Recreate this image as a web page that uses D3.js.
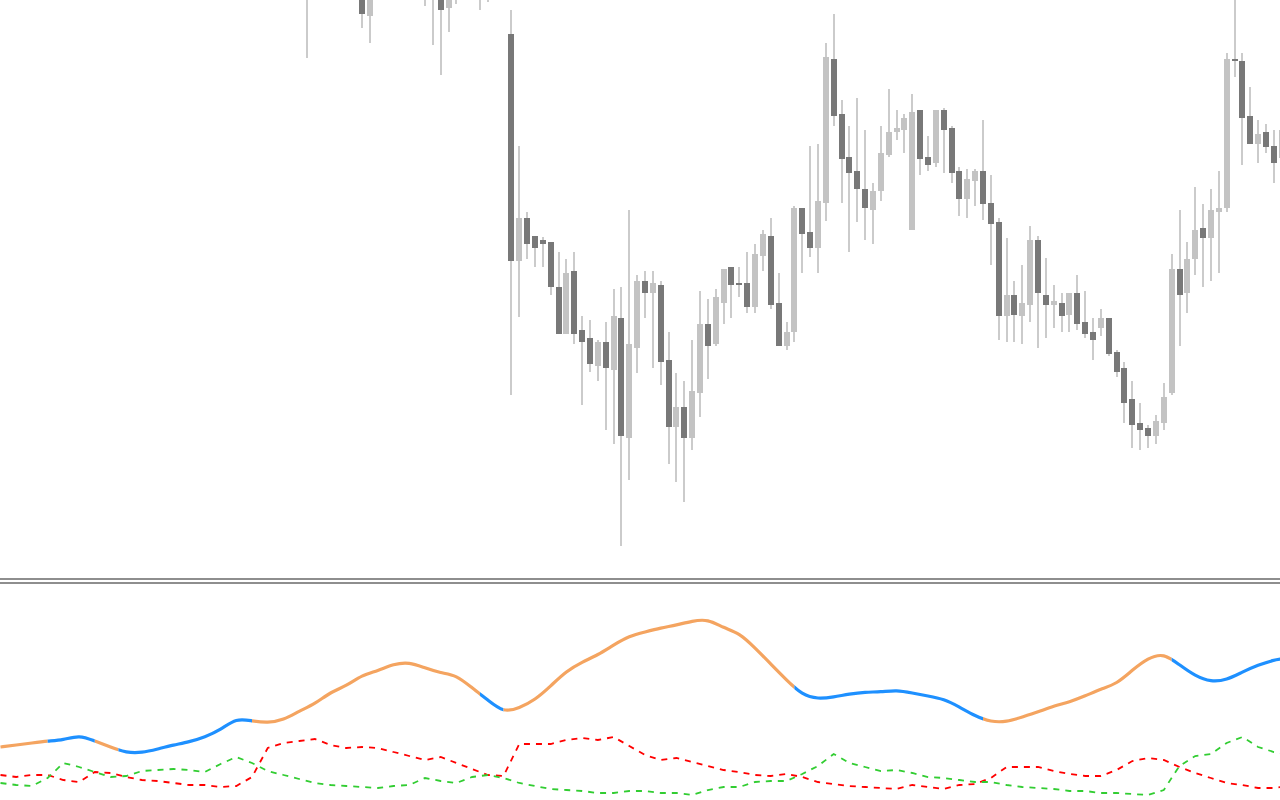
<!DOCTYPE html>
<html><head><meta charset="utf-8">
<script src="https://cdn.jsdelivr.net/npm/d3@7"></script>
<style>html,body{margin:0;padding:0;background:#fff;overflow:hidden}</style>
</head><body><svg id="c" width="1280" height="800"></svg>
<script>
// ---- candle data (bar index of first entry = firstCandle); null = bar fully above the visible area
const firstCandle = 39;
const opens = [1030,null,null,null,null,null,null,1012,984,null,null,null,null,null,null,1005,1012,1008,992,1004,null,null,1003,1008,null,null,
966,739,782,764,760,758,713,666,729,670,662,634,658,630,682,562,652,719,707,715,640,573,593,562,607,676,656,697,733,717,717,693,744,764,697,654,668,792,768,752,797,941,886,843,829,811,790,809,845,868,870,770,890,843,837,890,872,829,801,819,829,797,778,684,705,684,695,760,705,695,697,685,707,678,668,672,682,648,632,601,577,572,564,577,607,731,707,741,772,762,788,792,941,939,884,856,868,854,842];
const highs = [1045,null,null,null,null,null,null,1025,1020,null,null,null,null,null,null,1020,1020,1015,1012,1015,null,null,1012,1012,null,null,
990,854,788,764,763,758,748,741,748,684,680,660,678,711,713,790,725,729,729,719,668,627,619,660,709,701,711,731,733,733,748,756,770,782,727,678,794,792,854,856,957,986,900,874,902,870,817,874,911,890,886,906,890,864,890,892,874,833,831,831,880,825,782,762,719,735,774,764,742,715,707,707,725,709,682,691,682,650,638,619,597,575,585,617,746,790,758,813,796,811,829,947,1005,947,913,880,876,870,874];
const lows = [942,null,null,null,null,null,null,972,957,null,null,null,null,null,null,994,955,925,968,996,null,null,990,998,null,null,
605,683,741,733,733,705,666,666,656,595,628,619,570,556,454,520,627,682,632,615,536,518,498,550,583,621,654,676,682,703,687,687,729,691,654,650,658,727,743,727,779,874,797,748,778,760,756,799,843,860,847,770,825,829,833,827,817,784,782,794,780,735,660,658,658,656,678,652,662,672,668,668,670,662,640,664,644,623,577,552,550,552,556,570,605,654,687,725,713,719,727,788,923,835,856,837,847,817,840];
const closes = [1020,null,null,null,null,null,null,986,1010,null,null,null,null,null,null,1015,1004,990,1006,1010,null,null,1008,1004,null,null,
739,782,756,752,756,713,666,727,666,658,636,658,632,684,564,656,719,707,717,638,573,593,562,609,676,654,703,731,715,715,693,746,766,695,654,668,792,766,752,799,943,884,841,827,811,792,809,847,868,872,882,888,841,835,890,870,827,801,821,829,796,776,684,705,685,697,760,707,695,699,684,707,676,666,660,682,646,628,597,575,570,564,579,603,731,705,741,770,762,790,792,941,939,882,856,866,853,837,870];

// ---- indicator data, sampled every second bar (plus the last bar)
const adxMain = [26.5,27.5,28.5,29.5,30,32.5,29.5,26.5,23.6,23.6,25.5,27.5,29,31.5,35,41,39.5,38.6,40,44.5,48,54,57,62.5,64.5,68,69,66,63.5,62.5,56,50,43.7,46,50,57,64.5,69,72.5,77.5,82,84,86,87.5,89.5,90.5,86,83.5,76,68,60,52.5,50.5,51.5,53,54,54,55,53.5,52,50.5,46.5,42,39,39,41.5,44,47,49,52,55.5,58,65,71,73.5,67.5,62,59,60,64,67.5,70,70.5];
const diMinus = [12.5,11.5,12.5,12.5,10,9,14,13.5,11.5,10,9.5,8.5,7.5,7.5,6.5,7,11.5,26,28.5,29.5,30.5,27.5,26,26.5,26,24,22,20,21.5,18.5,15.5,12.5,12,28,28,28,30,31,30,31.5,27,22.5,20,21,19,17,15,14,12.5,12,13,11.5,9,8,7,6.5,6,5.5,7.5,6.5,5.5,7.5,8,11,16.5,16.5,16.5,14.5,13,12,12,15,19.5,21,20,16.5,13.5,11,8.5,7.5,6,6,6.5];
const diPlus = [8.5,7.5,7,11,18.5,16.5,14,11.5,12,14.5,15,15.5,15,14,18,21.5,18.5,14.5,12.5,10.5,8.5,7.5,7,6.5,6,7,7.5,11,9.5,8.5,11.5,12.5,11,8.5,7,5.5,5,4.5,3.5,3.5,4.5,4.5,3.5,3.5,2.5,5,6.5,6.5,9,9.5,9.5,13,17,23,18.5,16.5,14.5,15,13.5,11.5,11,10,9,9,7.5,6.5,6,5.5,4.5,4.5,3.5,3.5,3,2.5,5,17,22,23,28.5,31.5,26.5,24,23.5];
// bars where the main line changes colour (starts orange, alternates)
const colourSwitch = [6,12,15,32,61,64,101,125,149];
const colourCycle = ["#f4a460","#1e90ff"];

const W = 1280, H = 800, lastBar = 163, barStep = 7.86;
const svg = d3.select("#c");
svg.append("rect").attr("width",W).attr("height",H).attr("fill","#ffffff");

const x = d3.scaleLinear().domain([0,lastBar]).range([0.5, 0.5 + lastBar*barStep]);
const yPrice = d3.scaleLinear().domain([423,1000]).range([577,0]);
const yInd = d3.scaleLinear().domain([0,100]).range([800,600]);

// ---- main panel
const defs = svg.append("defs");
defs.append("clipPath").attr("id","mainClip").append("rect").attr("x",0).attr("y",0).attr("width",W).attr("height",577);
const main = svg.append("g").attr("clip-path","url(#mainClip)").attr("shape-rendering","crispEdges");

const candles = opens.map((o,i)=>({i:firstCandle+i,o,h:highs[i],l:lows[i],c:closes[i]})).filter(d=>d.o!==null);

main.selectAll("rect.wick").data(candles).enter().append("rect").attr("class","wick")
  .attr("x",d=>Math.round(x(d.i))-1).attr("width",2)
  .attr("y",d=>Math.round(yPrice(d.h)))
  .attr("height",d=>Math.max(1,Math.round(yPrice(d.l))-Math.round(yPrice(d.h))))
  .attr("fill","#cbcbcb");

main.selectAll("rect.body").data(candles).enter().append("rect").attr("class","body")
  .attr("x",d=>Math.round(x(d.i))-3).attr("width",6)
  .attr("y",d=>Math.round(yPrice(Math.max(d.o,d.c))))
  .attr("height",d=>Math.max(1,Math.round(yPrice(Math.min(d.o,d.c)))-Math.round(yPrice(Math.max(d.o,d.c)))))
  .attr("fill",d=>d.c>=d.o ? "#c3c3c3" : "#787878");

// ---- separator
svg.append("rect").attr("x",0).attr("y",578).attr("width",W).attr("height",2).attr("fill","#8e8e8e");
svg.append("rect").attr("x",0).attr("y",582).attr("width",W).attr("height",2).attr("fill","#8e8e8e");

// ---- indicator panel
const sampleBars = d3.range(0,lastBar,2).concat([lastBar]);
const ind = svg.append("g");

const lineLin = d3.line().x(d=>x(d[0])).y(d=>yInd(d[1])).curve(d3.curveLinear);
ind.append("path").datum(sampleBars.map((b,k)=>[b,diMinus[k]]))
  .attr("d",lineLin).attr("fill","none").attr("stroke","#ff0000").attr("stroke-width",1.8).attr("stroke-dasharray","6,6");
ind.append("path").datum(sampleBars.map((b,k)=>[b,diPlus[k]]))
  .attr("d",lineLin).attr("fill","none").attr("stroke","#32cd32").attr("stroke-width",1.8).attr("stroke-dasharray","6,6");

const lineSmooth = d3.line().x(d=>x(d[0])).y(d=>yInd(d[1])).curve(d3.curveBasis);
const adxPts = sampleBars.map((b,k)=>[b,adxMain[k]]);
const bounds = [0].concat(colourSwitch).concat([lastBar+2]);
for (let k=0;k<bounds.length-1;k++){
  const id = "seg"+k;
  const x0 = k===0 ? -5 : x(bounds[k]);
  const x1 = x(bounds[k+1]);
  defs.append("clipPath").attr("id",id).append("rect")
    .attr("x",x0).attr("y",585).attr("width",x1-x0).attr("height",215);
  ind.append("path").datum(adxPts).attr("clip-path",`url(#${id})`)
    .attr("d",lineSmooth).attr("fill","none")
    .attr("stroke",colourCycle[k%2]).attr("stroke-width",3.2);
}
</script></body></html>
